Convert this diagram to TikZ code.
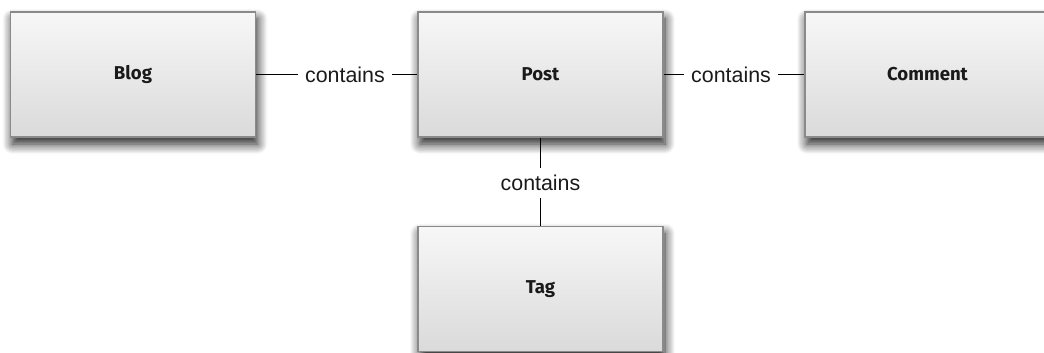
\documentclass[tikz,border=0pt]{standalone}
\usepackage{fontspec}
\setmainfont{Liberation Sans}
\newfontfamily\boxfont{Fira Sans}
\usetikzlibrary{shadows.blur}
\definecolor{boxtop}{HTML}{F7F7F7}
\definecolor{boxbot}{HTML}{DADADA}
\definecolor{boxline}{HTML}{8A8A8A}
\definecolor{inktext}{HTML}{1A1A1A}
\tikzset{
  entity/.style={rectangle, draw=boxline, line width=0.75pt,
    top color=boxtop, bottom color=boxbot,
    minimum width=122.5pt, minimum height=62.5pt, inner sep=0pt,
    font=\boxfont\bfseries\fontsize{9.3}{11}\selectfont, text=inktext,
    blur shadow={shadow xshift=1pt, shadow yshift=-3.5pt,
      shadow blur radius=5pt, shadow blur steps=10, shadow opacity=90}},
  rel/.style={font=\fontsize{10.7}{12}\selectfont, text=inktext,
    inner xsep=3.5pt, inner ysep=2pt},
  link/.style={draw=black, line width=0.75pt}
}
\begin{document}
\begin{tikzpicture}[x=0.5pt, y=-0.5pt]
  \useasboundingbox (0,0) rectangle (1044,353);
  \clip (0,0) rectangle (1044,353);
  % entity boxes
  \node[entity] (blog)    at (133,74.5)   {Blog};
  \node[entity] (post)    at (540.5,74.5) {Post};
  \node[entity] (comment) at (927.5,74.5) {Comment};
  \node[entity] (tag)     at (540.5,289)  {Tag};
  % relationship labels
  \node[rel] (c1) at (345,74.5) {contains};
  \node[rel] (c2) at (731,74.5) {contains};
  \node[rel, inner ysep=3.5pt] (c3) at (540.5,183) {contains};
  % connectors
  \draw[link] (blog.east) -- (c1);
  \draw[link] (c1) -- (post.west);
  \draw[link] (post.east) -- (c2);
  \draw[link] (c2) -- (comment.west);
  \draw[link] (post.south) -- (c3);
  \draw[link] (c3) -- (tag.north);
\end{tikzpicture}
\end{document}
